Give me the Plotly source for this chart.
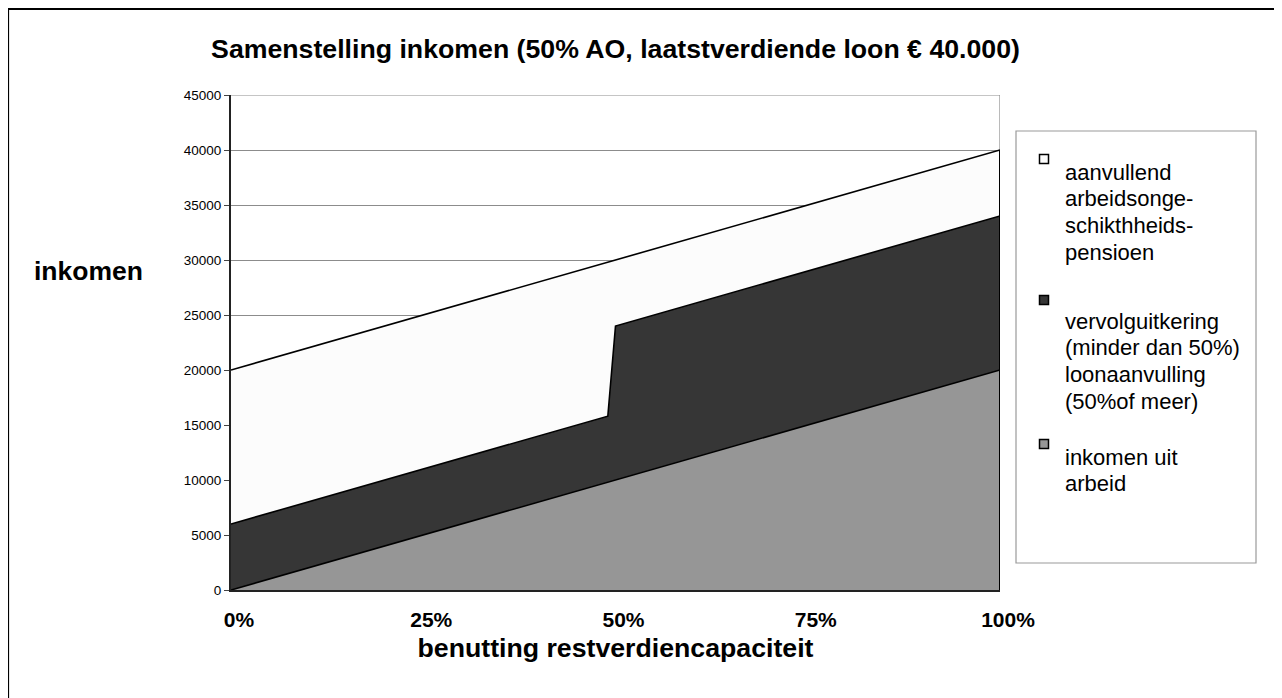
import plotly.graph_objects as go

# ---------------- data ----------------
x_pct = [0, 49, 50, 100]                      # benutting restverdiencapaciteit (%)
inkomen_uit_arbeid = [0, 9800, 10000, 20000]
vervolg_loonaanvulling = [6000, 6000, 14000, 14000]
aanvullend_pensioen = [14000, 14000, 6000, 6000]

x_tickvals = [0, 25, 50, 75, 100]
x_ticktext = ["0%", "25%", "50%", "75%", "100%"]
y_tickvals = [0, 5000, 10000, 15000, 20000, 25000, 30000, 35000, 40000, 45000]

legend_aanvullend = ["aanvullend", "arbeidsonge-", "schikthheids-", "pensioen"]
legend_vervolg = ["vervolguitkering", "(minder dan 50%)", "loonaanvulling", "(50%of meer)"]
legend_arbeid = ["inkomen uit", "arbeid"]

title_text = "Samenstelling inkomen (50% AO, laatstverdiende loon € 40.000)"
x_title = "benutting restverdiencapaciteit"
y_title = "inkomen"

# ---------------- styling ----------------
OFF = 8                      # page body margin
W, H = 1282, 698
L, R, T, B = 231 - OFF, 282 + OFF, 95 - OFF, 108 + OFF
FONT = "Liberation Sans, Arial, sans-serif"
C_WHITE, C_DARK, C_GRAY = "#fcfcfc", "#363636", "#969696"


def px(xp):
    return (xp - OFF - L) / (W - L - R)


def py(yp):
    return (H - B - (yp - OFF)) / (H - T - B)


fig = go.Figure()

series = [
    ("inkomen uit arbeid", inkomen_uit_arbeid, C_GRAY),
    ("vervolguitkering / loonaanvulling", vervolg_loonaanvulling, C_DARK),
    ("aanvullend arbeidsongeschiktheidspensioen", aanvullend_pensioen, C_WHITE),
]
for name, vals, col in series:
    fig.add_trace(go.Scatter(
        x=x_pct, y=vals, name=name, stackgroup="one", mode="lines",
        line=dict(color="black", width=1.6), fillcolor=col,
        showlegend=False, hoverinfo="x+y+name",
    ))

# right-hand closing edge of the stacked areas (from the data)
total_last = inkomen_uit_arbeid[-1] + vervolg_loonaanvulling[-1] + aanvullend_pensioen[-1]
fig.add_trace(go.Scatter(x=[x_pct[-1], x_pct[-1]], y=[0, total_last], mode="lines",
                         line=dict(color="black", width=2), showlegend=False, hoverinfo="skip"))

shapes = []
# plot area border (gray, top + right side)
shapes.append(dict(type="line", xref="x", yref="y", x0=100, x1=100, y0=0, y1=45000,
                   line=dict(color="#8c8c8c", width=1.2), layer="below"))
shapes.append(dict(type="line", xref="x", yref="y", x0=0, x1=100, y0=45000, y1=45000,
                   line=dict(color="#8c8c8c", width=1.2), layer="below"))
# outer frame of the chart
shapes.append(dict(type="rect", xref="paper", yref="paper",
                   x0=px(8), x1=px(1300), y0=py(9), y1=py(720),
                   line=dict(color="black", width=2.2), fillcolor="rgba(0,0,0,0)"))
# legend box
shapes.append(dict(type="rect", xref="paper", yref="paper",
                   x0=px(1016), x1=px(1256), y0=py(131), y1=py(563),
                   line=dict(color="#9a9a9a", width=1.2), fillcolor="white"))

annotations = []
legend_items = [
    (legend_aanvullend, C_WHITE, 159, 172),
    (legend_vervolg, C_DARK, 300, 321),
    (legend_arbeid, C_GRAY, 444, 457),
]
LS = 26.7
for lines, col, my, ty in legend_items:
    s = 4.5
    shapes.append(dict(type="rect", xref="paper", yref="paper",
                       x0=px(1044 - s), x1=px(1044 + s), y0=py(my - s), y1=py(my + s),
                       line=dict(color="black", width=1.5), fillcolor=col))
    for i, ln in enumerate(lines):
        annotations.append(dict(text=ln, xref="paper", yref="paper", x=px(1063),
                                y=py(ty + i * LS), xanchor="left", yanchor="middle",
                                showarrow=False, font=dict(family=FONT, size=22, color="black")))

# y axis title (horizontal)
annotations.append(dict(text=y_title, xref="paper", yref="paper", x=px(32), y=py(271),
                        xanchor="left", yanchor="middle", showarrow=False,
                        font=dict(family=FONT, size=26.5, color="black", weight="bold")))

fig.update_layout(
    width=W, height=H,
    margin=dict(l=L, r=R, t=T, b=B, pad=0),
    paper_bgcolor="white", plot_bgcolor="white",
    showlegend=False,
    title=dict(text=title_text, x=0.5, xref="paper", xanchor="center",
               y=1 - (49 - OFF) / H, yref="container", yanchor="middle",
               font=dict(family=FONT, size=26.7, color="black", weight="bold")),
    xaxis=dict(range=[0, 100], tickvals=x_tickvals, ticktext=x_ticktext,
               showgrid=False, zeroline=False, showline=True, linecolor="#222", linewidth=2,
               ticks="", ticklabelshift=8, ticklabelstandoff=10,
               tickfont=dict(family=FONT, size=21, color="black", weight="bold"),
               title=dict(text=x_title, standoff=8,
                          font=dict(family=FONT, size=26.7, color="black", weight="bold"))),
    yaxis=dict(range=[0, 45000], tickvals=y_tickvals, tickformat="d",
               showgrid=True, gridcolor="#8c8c8c",
               gridwidth=1, zeroline=False, showline=True, linecolor="#222", linewidth=2,
               ticks="outside", ticklen=5, tickcolor="#444", tickwidth=1,
               tickfont=dict(family=FONT, size=13.5, color="black")),
    shapes=shapes,
    annotations=annotations,
)

fig.write_html("out.html")
